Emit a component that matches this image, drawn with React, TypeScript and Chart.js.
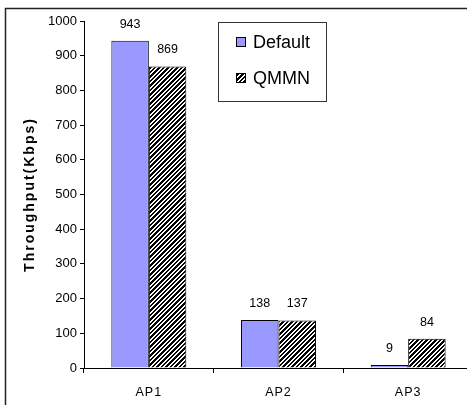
import React, { useEffect, useRef } from 'react';
import { Chart, registerables } from 'chart.js';

Chart.register(...registerables);

const categories = ['AP1', 'AP2', 'AP3'];
const seriesNames = ['Default', 'QMMN'];
const defaultValues = [943, 138, 9];
const qmmnValues = [869, 137, 84];
const yMin = 0;
const yMax = 1000;
const yStep = 100;
const yAxisTitle = 'Throughput(Kbps)';

const FONT = "'Liberation Sans', Arial, sans-serif";

function makeHatch(): CanvasPattern | string {
  const size = 9;
  const c = document.createElement('canvas');
  c.width = size;
  c.height = size;
  const g = c.getContext('2d');
  if (!g) return '#000';
  const img = g.createImageData(size, size);
  for (let y = 0; y < size; y++) {
    for (let x = 0; x < size; x++) {
      const v = (x + y) % 4.5;
      const black = v < 2.4;
      const i = (y * size + x) * 4;
      const c0 = black ? 0 : 255;
      img.data[i] = c0;
      img.data[i + 1] = c0;
      img.data[i + 2] = c0;
      img.data[i + 3] = 255;
    }
  }
  g.putImageData(img, 0, 0);
  const p = g.createPattern(c, 'repeat');
  return p || '#000';
}

const framePlugin = {
  id: 'frame',
  beforeDraw(chart: any) {
    const ctx = chart.ctx;
    ctx.save();
    ctx.fillStyle = '#fff';
    ctx.fillRect(0, 0, chart.width, chart.height);
    ctx.strokeStyle = '#222';
    ctx.lineWidth = 1.5;
    ctx.strokeRect(5.5, 8.5, chart.width, chart.height);
    // y axis title
    const ca = chart.chartArea;
    ctx.translate(30, (ca.top + ca.bottom) / 2 + 1);
    ctx.rotate(-Math.PI / 2);
    ctx.font = `bold 14px ${FONT}`;
    (ctx as any).letterSpacing = '2px';
    ctx.fillStyle = '#000';
    ctx.textAlign = 'center';
    ctx.textBaseline = 'middle';
    ctx.fillText(yAxisTitle, 1, 0);
    ctx.restore();
    (ctx as any).letterSpacing = '1px';
  },
  beforeDatasetsDraw(chart: any) {
    (chart.ctx as any).letterSpacing = '0px';
  },
  afterDraw(chart: any) {
    const ctx = chart.ctx;
    (ctx as any).letterSpacing = '0px';
    // value labels
    ctx.save();
    ctx.font = `12.5px ${FONT}`;
    ctx.fillStyle = '#000';
    ctx.textAlign = 'center';
    ctx.textBaseline = 'alphabetic';
    chart.data.datasets.forEach((ds: any, di: number) => {
      const meta = chart.getDatasetMeta(di);
      meta.data.forEach((el: any, i: number) => {
        ctx.fillText(String(ds.data[i]), el.x, el.y - 13);
      });
    });
    ctx.restore();

    // legend
    ctx.save();
    const lx = 218.5, ly = 22.5, lw = 108, lh = 79;
    ctx.fillStyle = '#fff';
    ctx.fillRect(lx, ly, lw, lh);
    ctx.strokeStyle = '#333';
    ctx.lineWidth = 1;
    ctx.strokeRect(lx, ly, lw, lh);
    ctx.font = `18px ${FONT}`;
    ctx.textAlign = 'left';
    ctx.textBaseline = 'middle';
    chart.data.datasets.forEach((ds: any, di: number) => {
      const cy = 42 + di * 36;
      ctx.fillStyle = ds.backgroundColor;
      ctx.fillRect(236, cy - 5, 10, 10);
      ctx.strokeStyle = '#000';
      ctx.strokeRect(236.5, cy - 4.5, 9, 9);
      ctx.fillStyle = '#000';
      ctx.fillText(ds.label, 253, cy + 1);
    });
    ctx.restore();
  },
};

export default function App() {
  const ref = useRef<HTMLCanvasElement>(null);

  useEffect(() => {
    const canvas = ref.current;
    if (!canvas) return;
    const hatch = makeHatch();
    const chart = new Chart(canvas, {
      type: 'bar',
      data: {
        labels: categories,
        datasets: [
          {
            label: seriesNames[0],
            data: defaultValues,
            backgroundColor: '#9999ff',
            borderColor: '#000',
            borderWidth: 1,
            categoryPercentage: 0.578,
            barPercentage: 1,
          },
          {
            label: seriesNames[1],
            data: qmmnValues,
            backgroundColor: hatch as any,
            borderColor: '#000',
            borderWidth: 1,
            categoryPercentage: 0.578,
            barPercentage: 1,
          },
        ],
      },
      options: {
        responsive: false,
        animation: false,
        devicePixelRatio: 1,
        layout: { padding: { left: 0, top: 21, right: 17, bottom: 0 } },
        plugins: {
          legend: { display: false },
          tooltip: { enabled: false },
          title: { display: false },
        },
        scales: {
          x: {
            grid: {
              display: true,
              drawOnChartArea: false,
              drawTicks: true,
              tickLength: 5,
              color: '#000',
              offset: true,
            },
            border: { display: true, color: '#000', width: 1 },
            ticks: { color: '#000', font: { family: FONT, size: 12.5 }, padding: 12, maxRotation: 0 },
            afterFit: (s: any) => {
              s.height = 37;
            },
          },
          y: {
            min: yMin,
            max: yMax,
            grid: {
              display: true,
              drawOnChartArea: false,
              drawTicks: true,
              tickLength: 4,
              color: '#000',
            },
            border: { display: true, color: '#000', width: 1 },
            ticks: {
              stepSize: yStep,
              color: '#000',
              font: { family: FONT, size: 13 },
              padding: 3,
              z: 1,
              callback: (v: any) => String(v),
            },
            afterFit: (s: any) => {
              s.width = 84;
            },
          },
        },
      },
      plugins: [framePlugin],
    });
    return () => chart.destroy();
  }, []);

  return (
    <div
      style={{
        position: 'fixed',
        left: 0,
        top: 0,
        width: 467,
        height: 405,
        overflow: 'hidden',
        background: '#fff',
      }}
    >
      <canvas ref={ref} width={490} height={405} style={{ display: 'block', width: 490, height: 405 }} />
    </div>
  );
}
